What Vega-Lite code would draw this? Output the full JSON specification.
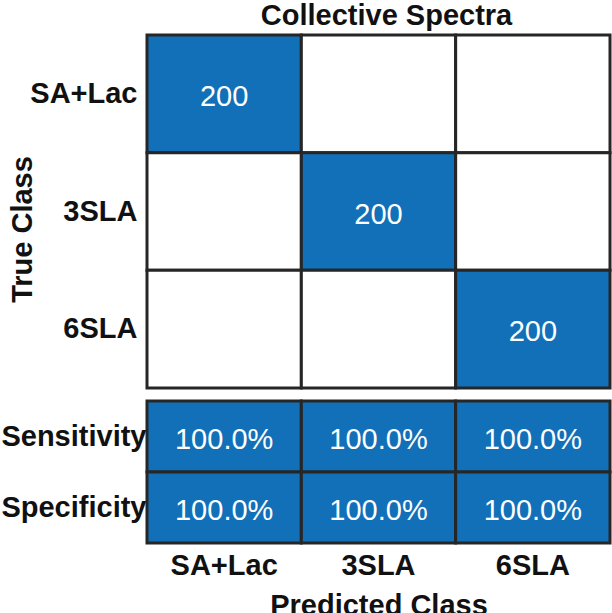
{
  "$schema": "https://vega.github.io/schema/vega-lite/v6.json",
  "background": "white",
  "padding": {"left": 0, "top": 1, "right": 0, "bottom": 0},
  "spacing": 9,
  "config": {
    "view": {"stroke": null},
    "font": "Liberation Sans",
    "scale": {"bandPaddingInner": 0, "bandPaddingOuter": 0}
  },
  "vconcat": [
    {
      "title": {"text": "Collective Spectra", "fontSize": 29, "font": "Liberation Sans", "fontWeight": "bold", "color": "#111111", "offset": 3, "dx": 8},
      "width": 463,
      "height": 353,
      "data": {
        "values": [
          {"pred": "SA+Lac", "true": "SA+Lac", "count": 200, "label": "200", "hit": "yes"},
          {"pred": "3SLA", "true": "SA+Lac", "count": 0, "label": "", "hit": "no"},
          {"pred": "6SLA", "true": "SA+Lac", "count": 0, "label": "", "hit": "no"},
          {"pred": "SA+Lac", "true": "3SLA", "count": 0, "label": "", "hit": "no"},
          {"pred": "3SLA", "true": "3SLA", "count": 200, "label": "200", "hit": "yes"},
          {"pred": "6SLA", "true": "3SLA", "count": 0, "label": "", "hit": "no"},
          {"pred": "SA+Lac", "true": "6SLA", "count": 0, "label": "", "hit": "no"},
          {"pred": "3SLA", "true": "6SLA", "count": 0, "label": "", "hit": "no"},
          {"pred": "6SLA", "true": "6SLA", "count": 200, "label": "200", "hit": "yes"}
        ]
      },
      "encoding": {
        "x": {"field": "pred", "type": "nominal", "sort": ["SA+Lac", "3SLA", "6SLA"], "scale": {"paddingInner": 0, "paddingOuter": 0}, "axis": null},
        "y": {
          "field": "true", "type": "nominal", "sort": ["SA+Lac", "3SLA", "6SLA"],
          "scale": {"paddingInner": 0, "paddingOuter": 0},
          "axis": {
            "domain": false, "ticks": false,
            "labelFontSize": 29, "labelFontWeight": "bold", "labelColor": "#111111", "labelPadding": 10, "labelFont": "Liberation Sans",
            "title": "True Class", "titleFontSize": 29, "titleFontWeight": "bold", "titleColor": "#111111", "titleFont": "Liberation Sans",
            "titleX": -116, "titleY": 194, "titleBaseline": "alphabetic", "titleAngle": -90
          }
        }
      },
      "layer": [
        {
          "mark": {"type": "rect", "stroke": "#262626", "strokeWidth": 3},
          "encoding": {
            "fill": {"field": "hit", "type": "nominal", "scale": {"domain": ["yes", "no"], "range": ["#1270B8", "#FFFFFF"]}, "legend": null}
          }
        },
        {
          "mark": {"type": "text", "color": "white", "fontSize": 29, "font": "Liberation Sans", "baseline": "middle", "align": "center", "dy": 3},
          "encoding": {"text": {"field": "label"}}
        }
      ]
    },
    {
      "width": 463,
      "height": 142,
      "data": {
        "values": [
          {"pred": "SA+Lac", "metric": "Sensitivity", "label": "100.0%"},
          {"pred": "3SLA", "metric": "Sensitivity", "label": "100.0%"},
          {"pred": "6SLA", "metric": "Sensitivity", "label": "100.0%"},
          {"pred": "SA+Lac", "metric": "Specificity", "label": "100.0%"},
          {"pred": "3SLA", "metric": "Specificity", "label": "100.0%"},
          {"pred": "6SLA", "metric": "Specificity", "label": "100.0%"}
        ]
      },
      "encoding": {
        "x": {
          "field": "pred", "type": "nominal", "sort": ["SA+Lac", "3SLA", "6SLA"],
          "scale": {"paddingInner": 0, "paddingOuter": 0},
          "axis": {
            "domain": false, "ticks": false, "labelAngle": 0,
            "labelFontSize": 29, "labelFontWeight": "bold", "labelColor": "#111111", "labelPadding": 8, "labelFont": "Liberation Sans",
            "title": "Predicted Class", "titleFontSize": 29, "titleFontWeight": "bold", "titleColor": "#111111", "titleFont": "Liberation Sans",
            "titleY": 71, "titleBaseline": "alphabetic"
          }
        },
        "y": {
          "field": "metric", "type": "nominal", "sort": ["Sensitivity", "Specificity"],
          "scale": {"paddingInner": 0, "paddingOuter": 0},
          "axis": {
            "domain": false, "ticks": false,
            "labelFontSize": 29, "labelFontWeight": "bold", "labelColor": "#111111", "labelPadding": 1, "labelFont": "Liberation Sans",
            "title": null
          }
        }
      },
      "layer": [
        {
          "mark": {"type": "rect", "stroke": "#262626", "strokeWidth": 3, "fill": "#1270B8"},
          "encoding": {}
        },
        {
          "mark": {"type": "text", "color": "white", "fontSize": 29, "font": "Liberation Sans", "baseline": "middle", "align": "center", "dy": 3},
          "encoding": {"text": {"field": "label"}}
        }
      ]
    }
  ]
}
